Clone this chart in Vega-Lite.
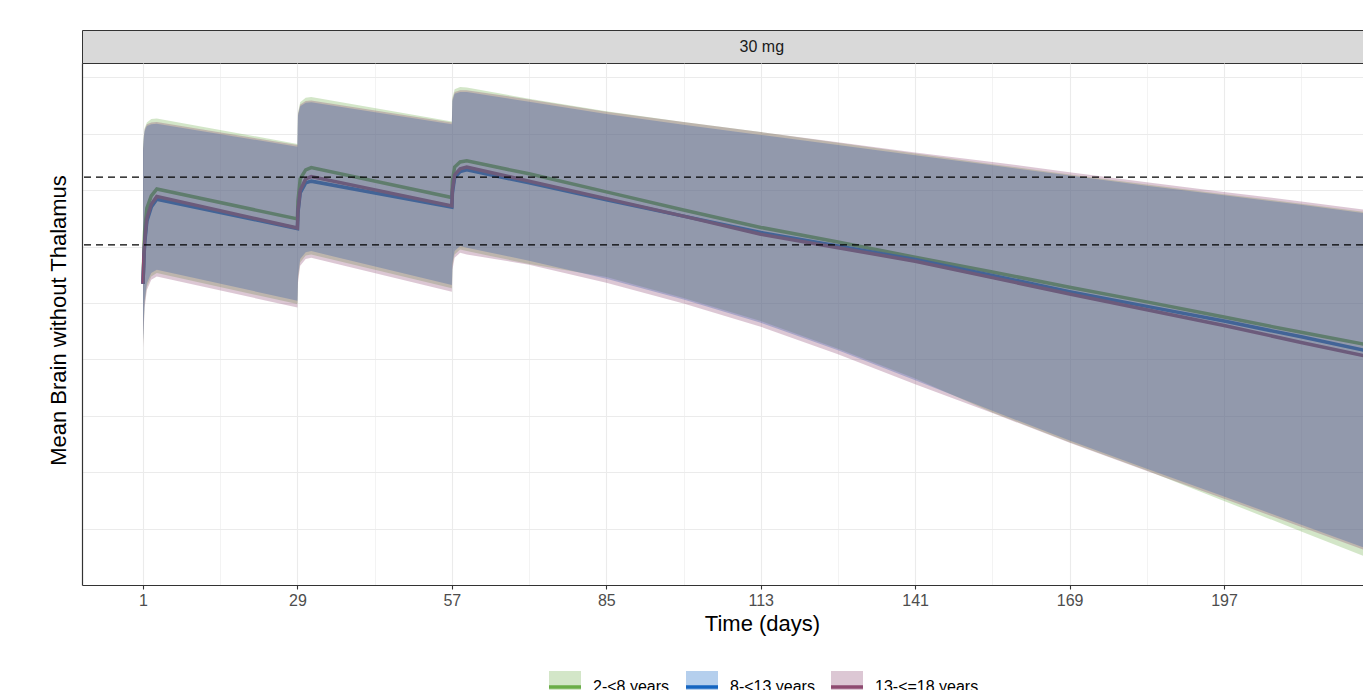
{
  "$schema": "https://vega.github.io/schema/vega-lite/v6.json",
  "background": "white",
  "padding": {"left": 47, "top": 29, "right": 0, "bottom": 0},
  "autosize": {"type": "pad"},
  "config": {
    "font": "Liberation Sans",
    "view": {"stroke": null},
    "axis": {"titleFontWeight": "normal", "titleColor": "black", "titleFont": "Liberation Sans", "labelFont": "Liberation Sans"},
    "legend": {"labelFont": "Liberation Sans"}
  },
  "datasets": {
    "pk": [
      {"g":"2-<8 years","t":1,"m":53.4,"lo":42.7,"hi":77.5},
      {"g":"2-<8 years","t":1.15,"m":58.5,"lo":46.4,"hi":79.7},
      {"g":"2-<8 years","t":1.3,"m":62.8,"lo":49.8,"hi":81.0},
      {"g":"2-<8 years","t":1.7,"m":66.8,"lo":52.9,"hi":82.0},
      {"g":"2-<8 years","t":2.5,"m":69.0,"lo":54.7,"hi":82.6},
      {"g":"2-<8 years","t":3.5,"m":70.2,"lo":55.3,"hi":82.7},
      {"g":"2-<8 years","t":29,"m":64.9,"lo":49.8,"hi":78.2},
      {"g":"2-<8 years","t":29.1,"m":68.1,"lo":54.2,"hi":83.7},
      {"g":"2-<8 years","t":29.5,"m":72.0,"lo":57.2,"hi":85.6},
      {"g":"2-<8 years","t":30.5,"m":73.6,"lo":58.4,"hi":86.4},
      {"g":"2-<8 years","t":31.5,"m":74.0,"lo":58.6,"hi":86.5},
      {"g":"2-<8 years","t":57,"m":68.7,"lo":52.6,"hi":82.2},
      {"g":"2-<8 years","t":57.1,"m":71.6,"lo":56.5,"hi":86.4},
      {"g":"2-<8 years","t":57.5,"m":74.1,"lo":58.6,"hi":87.9},
      {"g":"2-<8 years","t":58.5,"m":75.0,"lo":59.5,"hi":88.3},
      {"g":"2-<8 years","t":59.7,"m":75.2,"lo":59.2,"hi":88.2},
      {"g":"2-<8 years","t":71,"m":72.9,"lo":56.9,"hi":86.2},
      {"g":"2-<8 years","t":85,"m":69.7,"lo":54.6,"hi":84.0},
      {"g":"2-<8 years","t":99,"m":66.5,"lo":50.9,"hi":82.1},
      {"g":"2-<8 years","t":113,"m":63.4,"lo":46.8,"hi":80.3},
      {"g":"2-<8 years","t":127,"m":60.8,"lo":41.9,"hi":78.4},
      {"g":"2-<8 years","t":141,"m":58.1,"lo":36.6,"hi":76.5},
      {"g":"2-<8 years","t":155,"m":55.5,"lo":30.6,"hi":74.6},
      {"g":"2-<8 years","t":169,"m":52.8,"lo":25.3,"hi":72.8},
      {"g":"2-<8 years","t":183,"m":50.2,"lo":20.3,"hi":71.0},
      {"g":"2-<8 years","t":197,"m":47.5,"lo":14.9,"hi":69.3},
      {"g":"2-<8 years","t":211,"m":44.8,"lo":9.5,"hi":67.6},
      {"g":"2-<8 years","t":225,"m":42.2,"lo":4.1,"hi":65.8},

      {"g":"8-<13 years","t":1,"m":53.4,"lo":43.3,"hi":77.0},
      {"g":"8-<13 years","t":1.15,"m":57.5,"lo":47.0,"hi":79.2},
      {"g":"8-<13 years","t":1.3,"m":60.5,"lo":50.4,"hi":80.5},
      {"g":"8-<13 years","t":1.7,"m":64.5,"lo":53.5,"hi":81.4},
      {"g":"8-<13 years","t":2.5,"m":67.0,"lo":55.3,"hi":81.7},
      {"g":"8-<13 years","t":3.5,"m":68.4,"lo":55.9,"hi":81.8},
      {"g":"8-<13 years","t":29,"m":63.2,"lo":50.4,"hi":77.7},
      {"g":"8-<13 years","t":29.1,"m":66.0,"lo":54.8,"hi":83.2},
      {"g":"8-<13 years","t":29.5,"m":69.5,"lo":57.8,"hi":84.9},
      {"g":"8-<13 years","t":30.5,"m":71.3,"lo":59.0,"hi":85.5},
      {"g":"8-<13 years","t":31.5,"m":71.6,"lo":59.2,"hi":85.6},
      {"g":"8-<13 years","t":57,"m":67.0,"lo":53.2,"hi":81.7},
      {"g":"8-<13 years","t":57.1,"m":69.5,"lo":57.1,"hi":85.8},
      {"g":"8-<13 years","t":57.5,"m":72.2,"lo":59.2,"hi":87.1},
      {"g":"8-<13 years","t":58.5,"m":73.3,"lo":60.1,"hi":87.4},
      {"g":"8-<13 years","t":59.7,"m":73.6,"lo":59.8,"hi":87.4},
      {"g":"8-<13 years","t":71,"m":71.3,"lo":57.5,"hi":85.7},
      {"g":"8-<13 years","t":85,"m":68.3,"lo":54.3,"hi":83.5},
      {"g":"8-<13 years","t":99,"m":65.4,"lo":50.6,"hi":81.6},
      {"g":"8-<13 years","t":113,"m":62.5,"lo":46.5,"hi":79.8},
      {"g":"8-<13 years","t":127,"m":60.1,"lo":41.6,"hi":78.0},
      {"g":"8-<13 years","t":141,"m":57.7,"lo":36.3,"hi":76.2},
      {"g":"8-<13 years","t":155,"m":54.9,"lo":30.9,"hi":74.4},
      {"g":"8-<13 years","t":169,"m":52.0,"lo":25.6,"hi":72.6},
      {"g":"8-<13 years","t":183,"m":49.4,"lo":20.6,"hi":70.8},
      {"g":"8-<13 years","t":197,"m":46.8,"lo":15.7,"hi":69.1},
      {"g":"8-<13 years","t":211,"m":44.0,"lo":10.7,"hi":67.4},
      {"g":"8-<13 years","t":225,"m":41.1,"lo":5.7,"hi":65.6},

      {"g":"13-<=18 years","t":1,"m":53.4,"lo":42.1,"hi":77.3},
      {"g":"13-<=18 years","t":1.15,"m":57.8,"lo":45.8,"hi":79.5},
      {"g":"13-<=18 years","t":1.3,"m":61.0,"lo":49.2,"hi":80.8},
      {"g":"13-<=18 years","t":1.7,"m":65.0,"lo":52.3,"hi":81.7},
      {"g":"13-<=18 years","t":2.5,"m":67.5,"lo":54.1,"hi":82.0},
      {"g":"13-<=18 years","t":3.5,"m":68.9,"lo":54.7,"hi":82.1},
      {"g":"13-<=18 years","t":29,"m":63.3,"lo":49.2,"hi":78.0},
      {"g":"13-<=18 years","t":29.1,"m":66.3,"lo":53.6,"hi":83.5},
      {"g":"13-<=18 years","t":29.5,"m":70.0,"lo":56.6,"hi":85.2},
      {"g":"13-<=18 years","t":30.5,"m":72.0,"lo":57.8,"hi":85.8},
      {"g":"13-<=18 years","t":31.5,"m":72.4,"lo":58.0,"hi":85.9},
      {"g":"13-<=18 years","t":57,"m":67.2,"lo":52.0,"hi":82.0},
      {"g":"13-<=18 years","t":57.1,"m":70.0,"lo":55.9,"hi":86.1},
      {"g":"13-<=18 years","t":57.5,"m":72.7,"lo":58.0,"hi":87.4},
      {"g":"13-<=18 years","t":58.5,"m":73.8,"lo":58.9,"hi":87.7},
      {"g":"13-<=18 years","t":59.7,"m":74.1,"lo":58.6,"hi":87.7},
      {"g":"13-<=18 years","t":71,"m":71.6,"lo":56.8,"hi":86.1},
      {"g":"13-<=18 years","t":85,"m":68.5,"lo":53.6,"hi":83.9},
      {"g":"13-<=18 years","t":99,"m":65.4,"lo":49.9,"hi":82.1},
      {"g":"13-<=18 years","t":113,"m":62.2,"lo":45.8,"hi":80.3},
      {"g":"13-<=18 years","t":127,"m":59.8,"lo":40.9,"hi":78.5},
      {"g":"13-<=18 years","t":141,"m":57.4,"lo":35.6,"hi":76.7},
      {"g":"13-<=18 years","t":155,"m":54.5,"lo":30.5,"hi":75.0},
      {"g":"13-<=18 years","t":169,"m":51.6,"lo":25.2,"hi":73.2},
      {"g":"13-<=18 years","t":183,"m":48.8,"lo":20.2,"hi":71.4},
      {"g":"13-<=18 years","t":197,"m":46.0,"lo":15.3,"hi":69.7},
      {"g":"13-<=18 years","t":211,"m":43.0,"lo":10.3,"hi":68.0},
      {"g":"13-<=18 years","t":225,"m":40.1,"lo":5.3,"hi":66.2}
    ],
    "ref": [{"v": 60.3}, {"v": 72.3}],
    "strip": [{"panel": "30 mg", "t": 113.2}]
  },
  "spacing": 0,
  "bounds": "flush",
  "vconcat": [
    {
      "width": 1281,
      "height": 33,
      "view": {"fill": "#d9d9d9", "stroke": "#333333", "strokeWidth": 1},
      "data": {"name": "strip"},
      "mark": {"type": "text", "fontSize": 16, "color": "#1a1a1a", "baseline": "middle", "align": "center"},
      "encoding": {
        "x": {"field": "t", "type": "quantitative", "scale": {"domain": [-10.06, 222.2], "nice": false, "zero": false}, "axis": null},
        "text": {"field": "panel", "type": "nominal"}
      }
    },
    {
      "width": 1281,
      "height": 522,
      "data": {"name": "pk"},
      "layer": [
        {
          "transform": [{"filter": "datum.g == '2-<8 years'"}],
          "mark": {"type": "line", "strokeWidth": 3.5, "clip": true},
          "encoding": {
            "x": {"field": "t", "type": "quantitative", "title": "Time (days)",
              "scale": {"domain": [-10.06, 222.2], "nice": false, "zero": false},
              "axis": {
                "values": [1, 15, 29, 43, 57, 71, 85, 99, 113, 127, 141, 155, 169, 183, 197, 211],
                "labelExpr": "datum.value % 28 == 1 ? datum.label : ''",
                "tickOpacity": {"condition": {"test": "datum.value % 28 == 1", "value": 1}, "value": 0},
                "gridWidth": {"condition": {"test": "datum.value % 28 == 1", "value": 1.1}, "value": 0.6},
                "grid": true, "gridColor": "#ebebeb",
                "domainColor": "#333333", "domainWidth": 1.2,
                "tickColor": "#333333", "tickSize": 4, "tickWidth": 1.1,
                "labelFontSize": 16, "labelColor": "#4d4d4d", "labelPadding": 3,
                "labelFlush": false, "labelOverlap": false,
                "titleFontSize": 22, "titlePadding": 5, "titleX": 680
              }
            },
            "y": {"field": "m", "type": "quantitative", "title": "Mean Brain without Thalamus",
              "scale": {"domain": [0, 92.55], "nice": false, "zero": false},
              "axis": {
                "values": [10, 20, 30, 40, 50, 60, 70, 80, 90],
                "labels": false, "ticks": false,
                "grid": true, "gridColor": "#ebebeb", "gridWidth": 1,
                "domainColor": "#333333", "domainWidth": 1.2,
                "titleFontSize": 22, "titlePadding": 12, "titleY": 257
              }
            },
            "color": {"field": "g", "type": "nominal",
              "scale": {"domain": ["2-<8 years", "8-<13 years", "13-<=18 years"], "range": ["#6aad47", "#1565c0", "#8e4a70"]},
              "legend": {
                "orient": "none", "legendX": 465, "legendY": 639,
                "direction": "horizontal", "title": null,
                "symbolType": "M-1,0H1V1H-1V-1H1V0Z", "symbolSize": 1024, "symbolStrokeWidth": 3.5, "symbolDash": [32, 400],
                "labelFontSize": 16, "labelColor": "black", "labelOffset": 10, "columnPadding": 9,
                "encode": {"symbols": {"update": {"fill": {"scale": "fill", "field": "value"}, "stroke": {"scale": "color", "field": "value"}, "fillOpacity": {"value": 0.3}, "strokeOpacity": {"value": 1}, "opacity": {"value": 1}}}}
              }
            }
          }
        },
        {
          "transform": [{"filter": "datum.g == '8-<13 years'"}],
          "mark": {"type": "line", "strokeWidth": 3.5, "clip": true},
          "encoding": {
            "x": {"field": "t", "type": "quantitative"},
            "y": {"field": "m", "type": "quantitative"},
            "color": {"field": "g", "type": "nominal"}
          }
        },
        {
          "transform": [{"filter": "datum.g == '13-<=18 years'"}],
          "mark": {"type": "line", "strokeWidth": 3.5, "clip": true},
          "encoding": {
            "x": {"field": "t", "type": "quantitative"},
            "y": {"field": "m", "type": "quantitative"},
            "color": {"field": "g", "type": "nominal"}
          }
        },
        {
          "transform": [{"filter": "datum.g == '2-<8 years'"}],
          "mark": {"type": "area", "fillOpacity": 0.3, "clip": true},
          "encoding": {
            "x": {"field": "t", "type": "quantitative"},
            "y": {"field": "lo", "type": "quantitative"},
            "y2": {"field": "hi"},
            "fill": {"field": "g", "type": "nominal",
              "scale": {"domain": ["2-<8 years", "8-<13 years", "13-<=18 years"], "range": ["#6cac48", "#0a60c4", "#8c4470"]},
              "legend": {
                "orient": "none", "legendX": 465, "legendY": 639,
                "direction": "horizontal", "title": null,
                "symbolType": "M-1,0H1V1H-1V-1H1V0Z", "symbolSize": 1024, "symbolStrokeWidth": 3.5, "symbolDash": [32, 400],
                "labelFontSize": 16, "labelColor": "black", "labelOffset": 10, "columnPadding": 9,
                "encode": {"symbols": {"update": {"fill": {"scale": "fill", "field": "value"}, "stroke": {"scale": "color", "field": "value"}, "fillOpacity": {"value": 0.3}, "strokeOpacity": {"value": 1}, "opacity": {"value": 1}}}}
              }
            }
          }
        },
        {
          "transform": [{"filter": "datum.g == '8-<13 years'"}],
          "mark": {"type": "area", "fillOpacity": 0.3, "clip": true},
          "encoding": {
            "x": {"field": "t", "type": "quantitative"},
            "y": {"field": "lo", "type": "quantitative"},
            "y2": {"field": "hi"},
            "fill": {"field": "g", "type": "nominal"}
          }
        },
        {
          "transform": [{"filter": "datum.g == '13-<=18 years'"}],
          "mark": {"type": "area", "fillOpacity": 0.3, "clip": true},
          "encoding": {
            "x": {"field": "t", "type": "quantitative"},
            "y": {"field": "lo", "type": "quantitative"},
            "y2": {"field": "hi"},
            "fill": {"field": "g", "type": "nominal"}
          }
        },
        {
          "data": {"name": "ref"},
          "mark": {"type": "rule", "color": "black", "strokeWidth": 1.3, "strokeDash": [7, 5]},
          "encoding": {
            "y": {"field": "v", "type": "quantitative"}
          }
        }
      ]
    }
  ]
}
